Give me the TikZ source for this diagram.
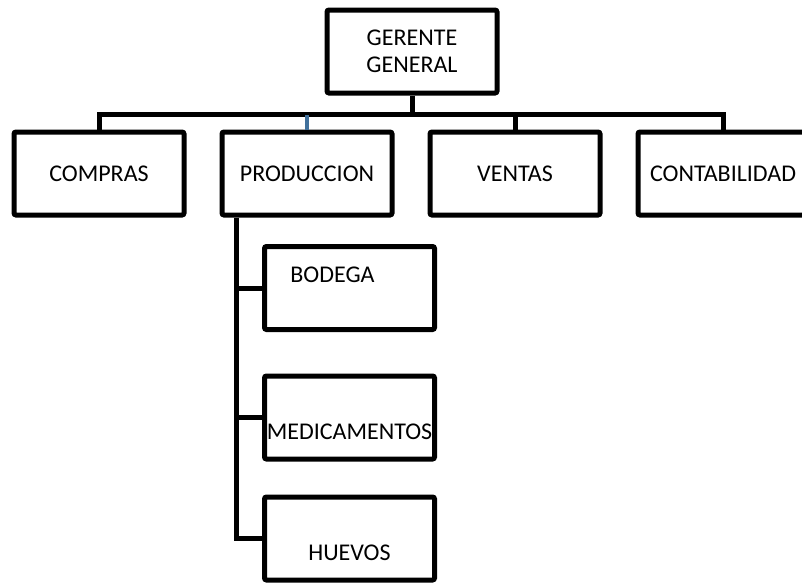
\documentclass[tikz,border=0pt]{standalone}
\usepackage{fontspec}
\setmainfont{Carlito}
\usetikzlibrary{positioning}
\definecolor{steel}{RGB}{65,113,156}

\begin{document}
\begin{tikzpicture}[x=1pt,y=-1pt,node distance=208pt,on grid,
		unit/.style={draw,line width=5pt,rounded corners=2pt,minimum width=170pt,minimum height=83pt,inner sep=0pt,align=center,font=\fontsize{24}{27}\selectfont},
		txt/.style={inner sep=0pt,font=\fontsize{24}{27}\selectfont},
		link/.style={line width=5pt}]
			\useasboundingbox (0,0) rectangle (802,584);
			\clip (0,0) rectangle (802,584);
			\node[unit] (g) at (412,51.5) {GERENTE\\GENERAL};
			\node[unit] (c) at (99,173.5) {COMPRAS};
			\node[unit] (p) [right=of c] {PRODUCCION};
			\node[unit] (v) [right=of p] {VENTAS};
			\node[unit] (k) [right=of v] {CONTABILIDAD};
			\node[unit] (b) [below right=114.5pt and 42.5pt of p] {};
			\node[unit] (m) [below=129.5pt of b] {};
			\node[unit] (h) [below=121pt of m] {};
			\node[txt] (bt) at ([shift={(-17,-13)}]b.center) {BODEGA};
			\node[txt] (mt) at ([shift={(0,14.5)}]m.center) {MEDICAMENTOS};
			\node[txt] (ht) at ([shift={(0,14.5)}]h.center) {HUEVOS};
			% enlaces
			\coordinate (bus) at ([yshift=-19pt]g.south);
			\coordinate (t) at ([xshift=17pt]p.south west);
			\draw[link] (g.south) -- (bus);
			\draw[link] (c.north) |- (bus) -| (k.north);
			\draw[link] (v.north) -- (v.north |- bus);
			\draw[link,steel,line width=3.5pt] (p.north) -- (p.north |- bus);
			\draw[link] (t) |- (h.west);
			\draw[link] (t |- b.west) -- (b.west);
			\draw[link] (t |- m.west) -- (m.west);
		\end{tikzpicture}
\end{document}
